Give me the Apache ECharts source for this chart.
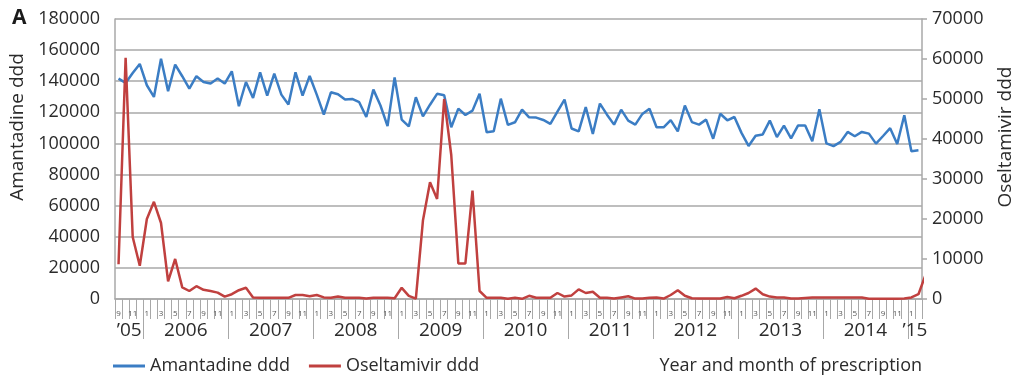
<!DOCTYPE html>
<html>
<head>
<meta charset="utf-8">
<script src="https://cdn.jsdelivr.net/npm/echarts@6/dist/echarts.min.js"></script>
<style>
  html, body { margin: 0; padding: 0; background: #fff; }
  #chart { width: 1024px; height: 383px; }
</style>
</head>
<body>
<div id="chart"></div>
<script>
// Monthly prescriptions, September 2005 – February 2015
const months = [
  9,10,11,12,
  1,2,3,4,5,6,7,8,9,10,11,12,
  1,2,3,4,5,6,7,8,9,10,11,12,
  1,2,3,4,5,6,7,8,9,10,11,12,
  1,2,3,4,5,6,7,8,9,10,11,12,
  1,2,3,4,5,6,7,8,9,10,11,12,
  1,2,3,4,5,6,7,8,9,10,11,12,
  1,2,3,4,5,6,7,8,9,10,11,12,
  1,2,3,4,5,6,7,8,9,10,11,12,
  1,2,3,4,5,6,7,8,9,10,11,12,
  1,2
];

// Year bands along the time axis: label, first month index, month count
const yearLabels = ['\u201905','2006','2007','2008','2009','2010','2011','2012','2013','2014','\u201915'];
const yearStarts = [0, 4, 16, 28, 40, 52, 64, 76, 88, 100, 112];
const yearLengths = [4, 12, 12, 12, 12, 12, 12, 12, 12, 12, 2];

const amantadine = [
  141700,138900,145300,151100,
  137400,129900,154500,133600,150700,143200,135300,143200,139500,138500,141700,138500,
  146400,123900,139500,129300,145700,130800,144900,131400,125000,145700,130800,143400,
  131400,118600,132900,131600,128200,128600,126500,117000,134600,124400,111100,142500,
  115300,111000,129700,117400,124900,131900,131000,110400,122400,118300,121100,131900,
  107200,107800,128800,111900,113600,121700,116800,116600,115100,112600,120500,128200,
  109600,107800,123400,106100,125600,118500,112100,121700,114700,112100,119000,122300,
  110400,110400,115000,107800,124400,113700,112100,115300,103000,119100,114900,117000,
  106800,98400,105000,105800,114700,104100,111500,103300,111600,111600,101400,122000,
  100000,98300,101000,107400,104600,107400,106300,99900,104800,109800,99700,118100,
  95000,95600
];

const oseltamivir = [
  8700,60300,15500,8300,
  20000,24300,19000,4400,10000,2900,2000,3200,2300,2000,1600,600,
  1200,2200,2800,400,300,300,300,300,300,1000,1000,700,
  1000,400,300,600,300,300,300,100,300,300,300,200,
  2800,800,100,19600,29200,25000,50000,36000,8900,8900,27100,2000,
  300,300,300,50,300,50,800,300,300,300,1500,600,
  900,2400,1500,1800,300,300,100,400,700,100,100,300,
  400,100,1000,2200,800,200,100,100,100,150,500,200,
  800,1500,2600,1200,600,400,350,100,100,250,400,400,
  400,400,400,400,400,350,50,50,50,50,50,100,
  400,1200,6000
];

const leftTicks = { min: 0, max: 180000, step: 20000 };
const rightTicks = { min: 0, max: 70000, step: 10000 };

const BLUE = '#3b7dc4';
const RED = '#c0403f';
const GRID = '#a8a8a8';
const TEXT = '#2b2b2b';
const FONT = '"Open Sans", "Noto Sans", sans-serif';

// Year separators sit on month boundaries, year labels in the middle of each band
const yearBounds = yearStarts.slice(1);
const yearCenters = yearStarts.map((s, i) => s + yearLengths[i] / 2);

// Plain integers, no thousands separators
const plain = v => String(v);

const chart = echarts.init(document.getElementById('chart'), null, { renderer: 'canvas' });

chart.setOption({
  animation: false,
  backgroundColor: '#ffffff',
  textStyle: { fontFamily: FONT },
  title: [
    { text: 'A', left: 7, top: 3, textStyle: { fontSize: 21, fontWeight: 'bold', color: '#1a1a1a', fontFamily: FONT } },
    { text: 'Year and month of prescription', right: 102, top: 357, padding: 0, textStyle: { fontSize: 18, fontWeight: 'normal', color: TEXT, fontFamily: FONT } }
  ],
  legend: {
    left: 108, top: 352,
    icon: 'rect', itemWidth: 32, itemHeight: 3, itemGap: 19,
    textStyle: { fontSize: 18, color: TEXT, fontFamily: FONT },
    data: ['Amantadine ddd', 'Oseltamivir ddd']
  },
  grid: { left: 115, right: 102, top: 19, height: 280, containLabel: false },
  xAxis: [
    {
      type: 'category',
      data: months,
      boundaryGap: true,
      axisLine: { show: true, lineStyle: { color: GRID, width: 1.5 } },
      axisTick: { show: true, interval: 0, length: 20, lineStyle: { color: GRID, width: 1 } },
      axisLabel: { interval: 1, fontSize: 8, color: '#555', margin: 11, fontFamily: FONT },
      splitLine: { show: false }
    },
    {
      type: 'value',
      position: 'bottom',
      min: 0, max: months.length,
      axisLine: { show: false },
      axisTick: { show: true, customValues: yearBounds, length: 40, lineStyle: { color: GRID, width: 1 } },
      axisLabel: {
        customValues: yearCenters,
        margin: 22,
        fontSize: 19,
        color: TEXT,
        fontFamily: FONT,
        formatter: v => yearLabels[yearCenters.indexOf(v)]
      },
      splitLine: { show: false }
    }
  ],
  yAxis: [
    {
      type: 'value',
      position: 'left',
      min: leftTicks.min, max: leftTicks.max, interval: leftTicks.step,
      name: 'Amantadine ddd',
      nameLocation: 'middle',
      nameGap: 86,
      nameTextStyle: { fontSize: 19, color: TEXT, fontFamily: FONT, padding: [0, 0, 0, 64] },
      axisLine: { show: true, lineStyle: { color: GRID, width: 1.5 } },
      axisTick: { show: false },
      axisLabel: { fontSize: 18, color: TEXT, margin: 15, fontFamily: FONT, formatter: plain },
      splitLine: { show: true, lineStyle: { color: GRID, width: 1.5 } }
    },
    {
      type: 'value',
      position: 'right',
      min: rightTicks.min, max: rightTicks.max, interval: rightTicks.step,
      name: 'Oseltamivir ddd',
      nameLocation: 'middle',
      nameGap: 74,
      nameTextStyle: { fontSize: 19, color: TEXT, fontFamily: FONT, padding: [0, 0, 0, 44] },
      axisLine: { show: true, lineStyle: { color: GRID, width: 1.5 } },
      axisTick: { show: true, inside: false, length: 5, lineStyle: { color: GRID, width: 1.5 } },
      axisLabel: { fontSize: 18, color: TEXT, margin: 10, fontFamily: FONT, formatter: plain },
      splitLine: { show: false }
    }
  ],
  series: [
    {
      name: 'Amantadine ddd',
      type: 'line',
      xAxisIndex: 0, yAxisIndex: 0,
      data: amantadine,
      symbol: 'none',
      color: BLUE,
      lineStyle: { color: BLUE, width: 2.5 }
    },
    {
      name: 'Oseltamivir ddd',
      type: 'line',
      xAxisIndex: 0, yAxisIndex: 1,
      data: oseltamivir,
      symbol: 'none',
      color: RED,
      lineStyle: { color: RED, width: 2.5 }
    }
  ]
});
</script>
</body>
</html>
